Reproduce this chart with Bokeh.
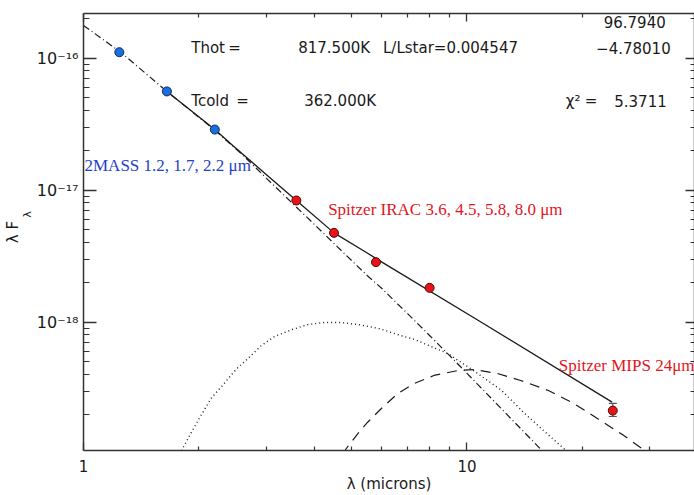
import math
from bokeh.plotting import figure
from bokeh.models import (FixedTicker, LogAxis, Range1d, Label, CustomJSTickFormatter,
                          Whisker, ColumnDataSource, TeeHead)
from bokeh.embed import file_html
from bokeh.resources import INLINE

# ---------------- data ----------------
twomass_lam = [1.24, 1.65, 2.20]
twomass_flux = [1.11e-16, 5.60e-17, 2.88e-17]

irac_lam = [3.59, 4.50, 5.79, 7.99]
irac_flux = [8.36e-18, 4.75e-18, 2.85e-18, 1.82e-18]

mips_lam = [24.0]
mips_flux = [2.14e-19]
mips_lo = [1.93e-19]
mips_hi = [2.43e-19]

# total model (solid)
total_lam = [1.65, 2.20, 2.45, 3.00, 3.59, 4.50, 5.40, 6.00, 10.9, 23.9]
total_flux = [5.60e-17, 2.88e-17, 2.18e-17, 1.31e-17, 8.36e-18, 4.75e-18,
              3.45e-18, 2.85e-18, 1.00e-18, 2.48e-19]

# stellar photosphere (dash-dot)
star_lam = [1.0, 1.25, 1.65, 2.2, 2.6, 3.0, 3.5, 4.0, 4.7, 5.5, 6.0, 7.0,
            8.0, 9.0, 10.0, 11.5, 13.0, 15.0, 16.5]
star_flux = [1.77e-16, 1.11e-16, 5.6e-17, 2.85e-17, 1.85e-17, 1.23e-17,
             8.0e-18, 5.5e-18, 3.49e-18, 2.25e-18, 1.80e-18, 1.16e-18,
             7.9e-19, 5.6e-19, 4.1e-19, 2.7e-19, 1.87e-19, 1.22e-19, 0.92e-19]

# hot dust, 817.5 K (dotted)
hot_lam = [1.78, 1.9, 2.0, 2.15, 2.3, 2.5, 2.7, 2.9, 3.15, 3.5, 3.85, 4.25,
           4.7, 5.2, 5.9, 6.7, 7.3, 8.9, 10.4, 12.3, 14.1, 16.3, 18.1, 19.0]
hot_flux = [1.0e-19, 1.42e-19, 1.85e-19, 2.64e-19, 3.3e-19, 4.4e-19, 5.4e-19,
            6.6e-19, 7.8e-19, 8.8e-19, 9.6e-19, 9.95e-19, 9.95e-19, 9.6e-19,
            8.95e-19, 7.95e-19, 7.4e-19, 5.8e-19, 4.3e-19, 3.05e-19, 2.05e-19,
            1.4e-19, 1.07e-19, 0.95e-19]

# cold dust, 362 K (dashed)
cold_lam = [4.75, 4.84, 5.2, 5.5, 6.0, 6.6, 7.3, 8.2, 9.5, 10.4, 12.0, 13.8,
            16.3, 19.0, 22.3, 25.6, 28.4, 30.0]
cold_flux = [1.0e-19, 1.10e-19, 1.44e-19, 1.74e-19, 2.24e-19, 2.88e-19,
             3.44e-19, 3.95e-19, 4.31e-19, 4.38e-19, 4.09e-19, 3.62e-19,
             3.04e-19, 2.42e-19, 1.80e-19, 1.39e-19, 1.12e-19, 1.0e-19]

x_major = [1, 10]
x_minor = [2, 3, 4, 5, 6, 7, 8, 9, 20, 30]
y_major = [1e-18, 1e-17, 1e-16]
y_minor = [m * 10.0 ** e for e in (-19, -18, -17) for m in range(2, 10)] + [2e-16]

# ---------------- figure ----------------
FONT = "DejaVu Sans"
INK = "#1a1a1a"

p = figure(x_axis_type="log", y_axis_type="log",
           x_range=Range1d(1.0, 39.2), y_range=Range1d(1.067e-19, 2.18e-16),
           width=694, height=495, output_backend="svg", toolbar_location=None,
           min_border_left=82, min_border_top=13, min_border_bottom=45,
           min_border_right=0)
p.xgrid.visible = False
p.ygrid.visible = False
p.outline_line_color = None
p.background_fill_color = "white"

xfmt = CustomJSTickFormatter(code="return String(Math.round(tick));")
yfmt = CustomJSTickFormatter(code="""
const e = Math.round(Math.log10(tick));
const sup = {"-": "\\u207b", "0": "\\u2070", "1": "\\u00b9", "2": "\\u00b2",
             "3": "\\u00b3", "4": "\\u2074", "5": "\\u2075", "6": "\\u2076",
             "7": "\\u2077", "8": "\\u2078", "9": "\\u2079"};
return "10" + String(e).split("").map(c => sup[c]).join("");
""")

def style_axis(ax, major_in, minor_in):
    ax.axis_line_color = "#333333"
    ax.axis_line_width = 1.5
    ax.major_tick_line_color = "#333333"
    ax.minor_tick_line_color = "#333333"
    ax.major_tick_line_width = 1.3
    ax.minor_tick_line_width = 1.2
    ax.major_tick_in = major_in
    ax.major_tick_out = 0
    ax.minor_tick_in = minor_in
    ax.minor_tick_out = 0
    ax.major_label_text_font = FONT
    ax.major_label_text_font_size = "15px"
    ax.major_label_text_color = INK

xb = p.xaxis[0]
xb.ticker = FixedTicker(ticks=x_major, minor_ticks=x_minor)
xb.formatter = xfmt
style_axis(xb, 8, 4)
xb.major_label_standoff = 9
xb.axis_label = "λ (microns)"
xb.axis_label_text_font = FONT
xb.axis_label_text_font_size = "15px"
xb.axis_label_text_font_style = "normal"
xb.axis_label_text_color = INK
xb.axis_label_standoff = 0

# inner left axis: ticks, tick labels and the subscript of the title
yl = p.yaxis[0]
yl.ticker = FixedTicker(ticks=y_major, minor_ticks=y_minor)
yl.formatter = yfmt
style_axis(yl, 13, 6)
yl.major_label_text_font_size = "16px"
yl.major_label_standoff = 5
yl.major_label_text_align = "right"
yl.axis_label = "\u00a0" * 10 + "λ"
yl.axis_label_text_font = FONT
yl.axis_label_text_font_size = "11px"
yl.axis_label_text_font_style = "normal"
yl.axis_label_text_color = INK
yl.axis_label_standoff = 0

# outer left axis: only the main title "λ F"
yt = LogAxis(ticker=FixedTicker(ticks=[], minor_ticks=[]))
yt.axis_line_color = None
yt.major_tick_line_color = None
yt.minor_tick_line_color = None
yt.major_label_text_font_size = "1px"
yt.major_label_text_color = None
yt.major_label_standoff = 0
yt.axis_label = "λ F"
yt.axis_label_text_font = FONT
yt.axis_label_text_font_size = "15px"
yt.axis_label_text_font_style = "normal"
yt.axis_label_text_color = INK
yt.axis_label_standoff = -4
p.add_layout(yt, "left")

xt = LogAxis(ticker=FixedTicker(ticks=x_major, minor_ticks=x_minor))
style_axis(xt, 8, 4)
xt.major_label_text_font_size = "1px"
xt.major_label_text_color = None
xt.major_label_standoff = 0
p.add_layout(xt, "above")

yr = LogAxis(ticker=FixedTicker(ticks=y_major, minor_ticks=y_minor))
style_axis(yr, 9, 4)
yr.major_label_text_font_size = "1px"
yr.major_label_text_color = None
yr.major_label_standoff = 0
p.add_layout(yr, "right")

# ---------------- model curves ----------------
p.line(star_lam, star_flux, line_color=INK, line_width=1.2, line_dash="7 3 1 3")
p.line(hot_lam, hot_flux, line_color=INK, line_width=1.4, line_dash="1 3")
p.line(cold_lam, cold_flux, line_color=INK, line_width=1.2, line_dash="10 7")
p.line(total_lam, total_flux, line_color=INK, line_width=1.3)

# ---------------- photometry ----------------
err_src = ColumnDataSource(dict(x=mips_lam, lo=mips_lo, hi=mips_hi))
p.add_layout(Whisker(source=err_src, base="x", lower="lo", upper="hi",
                     dimension="height", line_color="#555555", line_width=1.2,
                     upper_head=TeeHead(size=8, line_color="#555555", line_width=1.2),
                     lower_head=TeeHead(size=8, line_color="#555555", line_width=1.2)))

p.scatter(twomass_lam, twomass_flux, size=9, fill_color="#1a6ee0",
          line_color="#0a2a60", line_width=1)
p.scatter(irac_lam, irac_flux, size=9, fill_color="#e8141a",
          line_color="#4a0808", line_width=1)
p.scatter(mips_lam, mips_flux, size=9, fill_color="#e8141a",
          line_color="#4a0808", line_width=1)

# ---------------- annotations ----------------
def lab(x, y, text, size="15px", color=INK, align="left", font=FONT):
    p.add_layout(Label(x=x, y=y, text=text, text_font=font, text_font_size=size,
                       text_color=color, text_align=align, text_baseline="middle"))

lab(1.91, 1.184e-16, "Thot")
lab(2.386, 1.184e-16, "=")
lab(3.63, 1.184e-16, "817.500K")
lab(6.04, 1.184e-16, "L/Lstar=0.004547")
lab(32.98, 1.864e-16, "96.7940", align="right")
lab(33.98, 1.184e-16, "\u22124.78010", align="right")
lab(1.91, 4.70e-17, "Tcold")
lab(2.503, 4.70e-17, "=")
lab(3.763, 4.70e-17, "362.000K")
lab(18.10, 4.70e-17, "χ²")
lab(20.29, 4.70e-17, "=")
lab(33.18, 4.70e-17, "5.3711", align="right")

SERIF = "Liberation Serif"
lab(1.006, 1.538e-17, "2MASS 1.2, 1.7, 2.2 μm", size="17px", color="#1f3fc8", font=SERIF)
lab(4.345, 7.14e-18, "Spitzer IRAC 3.6, 4.5, 5.8, 8.0 μm", size="17px", color="#e3141c", font=SERIF)
lab(17.36, 4.70e-19, "Spitzer MIPS 24μm", size="17px", color="#e3141c", font=SERIF)

open("out.html", "w").write(file_html(p, INLINE))
